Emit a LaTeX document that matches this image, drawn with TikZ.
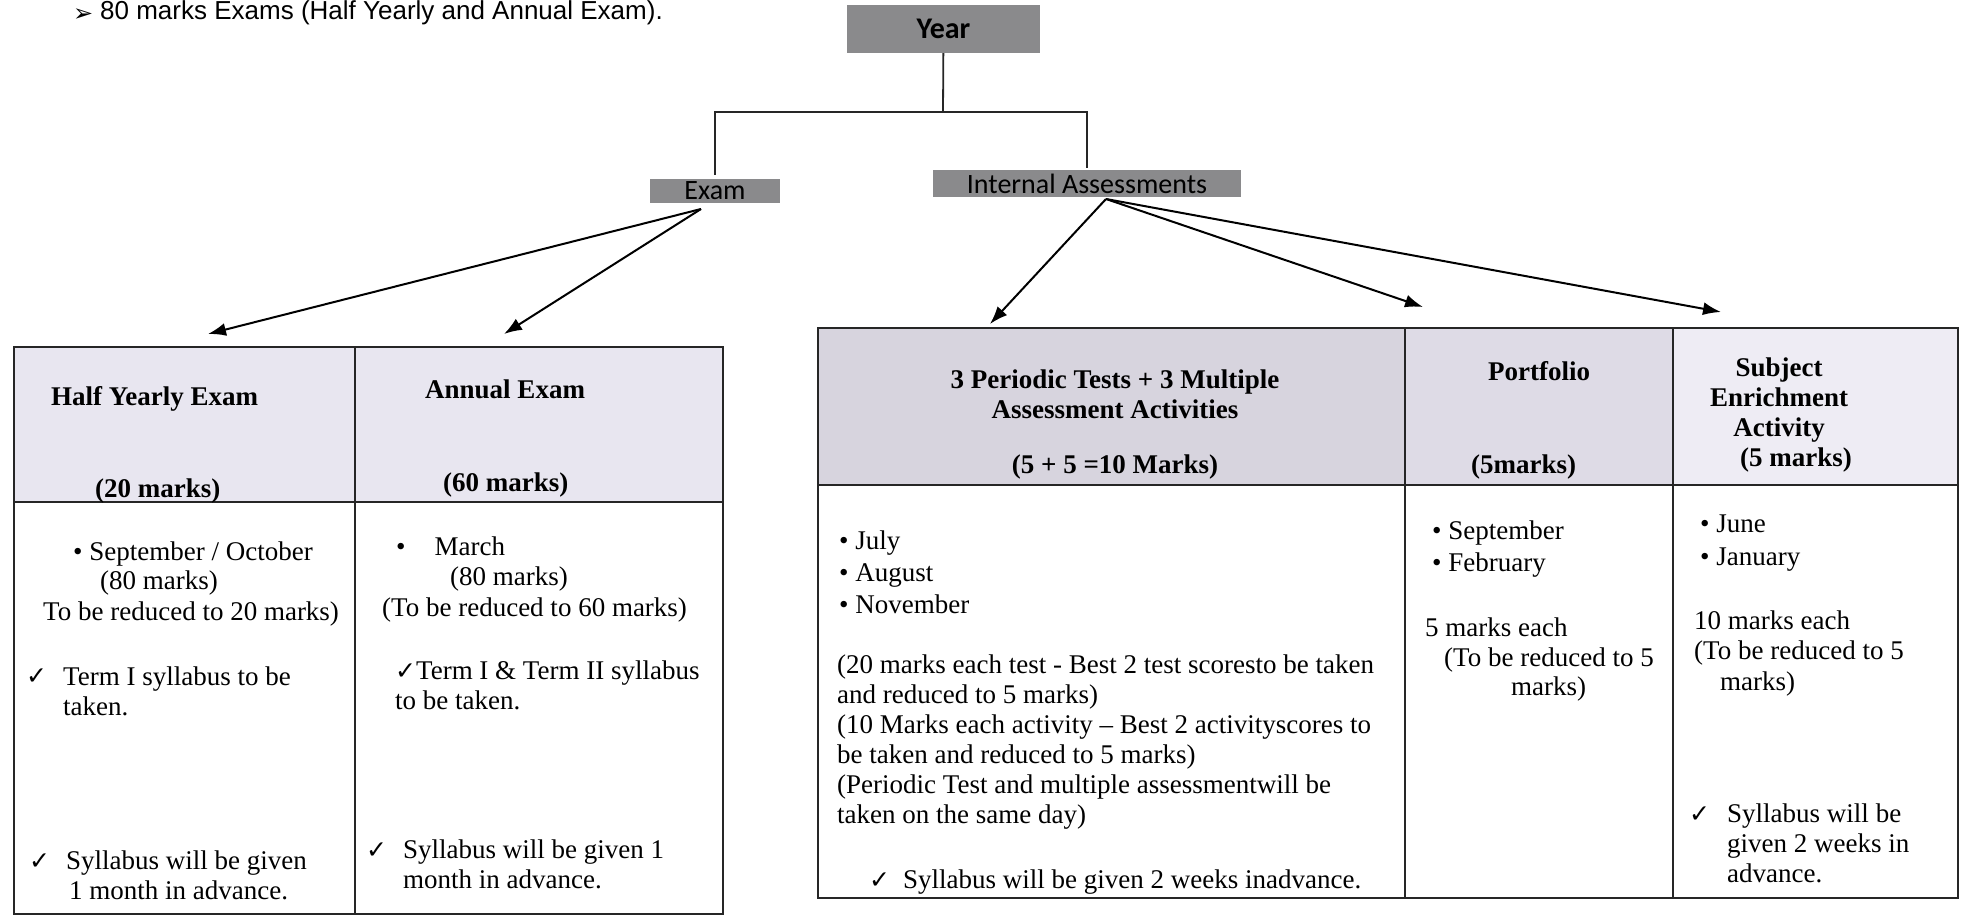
\documentclass[tikz,border=0pt]{standalone}
\usepackage{fontspec}
\setmainfont{Liberation Serif}
\newfontfamily\calibrifont{Carlito}
\newfontfamily\arialfont{Liberation Sans}
\newfontfamily\dejavufont{DejaVu Sans}
\usetikzlibrary{arrows.meta}
\newcommand{\chkmark}{{\dejavufont\fontsize{25}{25}\selectfont ✓}}
\definecolor{boxgrey}{HTML}{8A8A8C}
\definecolor{headlilac}{HTML}{E8E6F0}
\definecolor{headgreyA}{HTML}{D7D4DE}
\definecolor{headgreyB}{HTML}{DEDBE6}
\definecolor{headgreyC}{HTML}{EEECF4}

\begin{document}
\begin{tikzpicture}[x=1pt,y=-1pt,>={Latex[length=18pt,width=13pt]},
  greybox/.style={fill=boxgrey,inner sep=0pt,font=\calibrifont\fontsize{28}{28}\selectfont},
  line/.style={line width=1.8pt,draw=black!85},
  arr/.style={line width=2pt,->},
  txt/.style={anchor=base west,inner sep=0pt,align=left,font=\fontsize{27}{30}\selectfont},
  hd/.style={anchor=base,inner sep=0pt,align=center,font=\bfseries\fontsize{27}{30}\selectfont}]

\useasboundingbox (0,0) rectangle (1964,921);

\node [anchor=base west,inner sep=0pt,font=\dejavufont\fontsize{24}{24}\selectfont] (pointer) at (73,21) {➢};
\node [anchor=base west,inner sep=0pt,font=\arialfont\fontsize{26}{26}\selectfont] (note) at (100,19) {80 marks Exams (Half Yearly and Annual Exam).};

\node [greybox,minimum width=193pt,minimum height=48pt,font=\calibrifont\bfseries\fontsize{30}{30}\selectfont] (year) at (943.5,29) {Year};
\node [greybox,minimum width=130pt,minimum height=24pt] (exam) at (715,191) {Exam};
\node [greybox,minimum width=308pt,minimum height=27pt] (ia) at (1087,183.5) {Internal Assessments};

\coordinate (split) at (943,112);
\draw [line] (year) -- (split);
\draw [line,shorten >=4pt] (split) -| (exam.north);
\draw [line,shorten >=2pt] (split) -| (ia.north);

\coordinate (exfoot) at (701,209);
\coordinate (hyhead) at (208,334);
\coordinate (anhead) at (504,334);
\coordinate (iafoot) at (1106,199);
\coordinate (pthead) at (990,324);
\coordinate (pfhead) at (1423,307);
\coordinate (sehead) at (1721,312);
\draw [arr] (exfoot) -- (hyhead);
\draw [arr] (exfoot) -- (anhead);
\draw [arr] (iafoot) -- (pthead);
\draw [arr] (iafoot) -- (pfhead);
\draw [arr] (iafoot) -- (sehead);

\fill [headlilac] (14,347) rectangle (723,502);
\draw [line] (14,347) rectangle (723,914);
\draw [line] (14,502) -- (723,502);
\draw [line] (355,347) -- (355,914);

\fill [headgreyA] (818,328) rectangle (1405,485);
\fill [headgreyB] (1405,328) rectangle (1673,485);
\fill [headgreyC] (1673,328) rectangle (1958,485);
\draw [line] (818,328) rectangle (1958,898);
\draw [line] (818,485) -- (1958,485);
\draw [line] (1405,328) -- (1405,898);
\draw [line] (1673,328) -- (1673,898);

\node [hd,anchor=base west] (hy1) at (51,405) {Half Yearly Exam};
\node [hd,anchor=base west] (hy2) at (95,497) {(20 marks)};
\node [txt] (hy3) at (73,560) {• September / October};
\node [txt] (hy4) at (100,589) {(80 marks)};
\node [txt] (hy5) at (43,620) {To be reduced to 20 marks)};
\node [txt] (hyc1) at (26,684) {\chkmark};
\node [txt] (hy6) at (63,715) {Term I syllabus to be\\taken.};
\node [txt] (hyc2) at (29,869) {\chkmark};
\node [txt] (hy7) at (66,899) {Syllabus will be given\\\hspace{3pt}1 month in advance.};

\node [hd,anchor=base west] (an1) at (425,398) {Annual Exam};
\node [hd,anchor=base west] (an2) at (443,491) {(60 marks)};
\node [txt] (an3) at (396,555) {•\hspace{29pt}March};
\node [txt] (an4) at (450,585) {(80 marks)};
\node [txt] (an5) at (382,616) {(To be reduced to 60 marks)};
\node [txt] (an6) at (395,709) {\chkmark Term I \& Term II syllabus\\to be taken.};
\node [txt] (anc) at (366,858) {\chkmark};
\node [txt] (an7) at (403,888) {Syllabus will be given 1\\month in advance.};

\node [hd] (pt1) at (1115,418) {3 Periodic Tests + 3 Multiple\\Assessment Activities};
\node [hd] (pt2) at (1115,473) {(5 + 5 =10 Marks)};
\node [txt] (pt3) at (839,613) {• July\\[2pt]• August\\[2pt]• November};
\node [txt] (pt4) at (837,823) {(20 marks each test - Best 2 test scoresto be taken\\and reduced to 5 marks)\\(10 Marks each activity -- Best 2 activityscores to\\be taken and reduced to 5 marks)\\(Periodic Test and multiple assessmentwill be\\taken on the same day)};
\node [txt] (ptc) at (869,888) {\chkmark};
\node [txt] (pt5) at (903,888) {Syllabus will be given 2 weeks inadvance.};

\node [hd] (pf1) at (1539,380) {Portfolio};
\node [hd,anchor=base west] (pf2) at (1471,473) {(5marks)};
\node [txt] (pf3) at (1432,571) {• September\\[2pt]• February};
\node [txt] (pf4) at (1425,636) {5 marks each};
\node [txt] (pf5) at (1444,666) {(To be reduced to 5};
\node [txt] (pf6) at (1511,695) {marks)};

\node [hd] (se1) at (1779,436) {Subject\\Enrichment\\Activity};
\node [hd] (se2) at (1796,466) {(5 marks)};
\node [txt] (se3) at (1700,565) {• June\\[3pt]• January};
\node [txt] (se4) at (1694,659) {10 marks each\\(To be reduced to 5};
\node [txt] (se5) at (1720,690) {marks)};
\node [txt] (sec) at (1689,822) {\chkmark};
\node [txt] (se6) at (1727,882) {Syllabus will be\\given 2 weeks in\\advance.};

\end{tikzpicture}
\end{document}
